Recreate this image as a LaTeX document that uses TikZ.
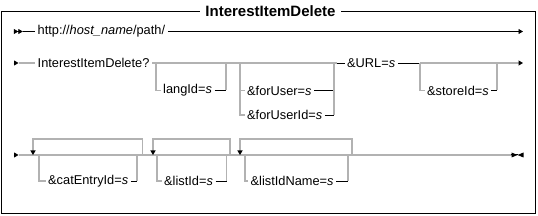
\documentclass[tikz,border=0pt]{standalone}
\usepackage{fontspec}
\setmainfont{Liberation Sans}
\usetikzlibrary{arrows.meta,positioning,calc}
\definecolor{rail}{RGB}{178,178,178}

\begin{document}
\begin{tikzpicture}[x=1pt, y=-1pt, font=\fontsize{12.8}{15}\selectfont,
  tok/.style={anchor=west, inner xsep=2.5pt, inner ysep=0pt},
  gr/.style={draw=rail, line width=1.4pt},
  bk/.style={draw=black, line width=0.8pt},
  tip/.style={-{Triangle[color=black, length=4.5pt, width=5pt]}},
  tip2/.style={-{Triangle[length=4.5pt, width=5pt] Triangle[length=4.5pt, width=5pt]}}]
\useasboundingbox (0,0) rectangle (538,216);
% frame and title
\draw[line width=0.9pt] (1.5,11.5) rectangle (535.5,213.5);
\node[fill=white, font=\fontsize{15}{17}\selectfont\bfseries,
  inner xsep=5pt, inner ysep=1pt] (title) at (270.5,11.5) {InterestItemDelete};
% first row
\coordinate (s1) at (13.5,31.5);
\coordinate (s1a) at (22.8,31.5);
\coordinate (e1) at (523,31.5);
\node[tok] (host) at (35,31.5) {http://\textit{host\_name}/path/};
\draw[bk, tip2] (s1) -- (s1a);
\draw[bk] (s1a) -- (host.west);
\draw[bk, tip] (host.east) -- (e1);
% second row
\coordinate (s2) at (13.5,63);
\coordinate (s2a) at (18.5,63);
\node[tok] (iid) at (35,63) {InterestItemDelete?};
\node[tok] (lang) at (160.5,90.5) {langId=\textit{s}};
\node[tok] (fuser) at (244.5,90.5) {\&forUser=\textit{s}};
\node[tok] (fuid) at (244.5,115) {\&forUserId=\textit{s}};
\node[tok] (url) at (344.5,63) {\&URL=\textit{s}};
\node[tok] (store) at (424.5,90.5) {\&storeId=\textit{s}};
\coordinate (e2) at (523,63);
\draw[bk, tip] (s2) -- (s2a);
\draw[gr] (s2a) -- (iid.west);
\draw[gr] (iid.east) -- (337,63);
\draw[bk] (337,63) -- (url.west);
\draw[bk] (url.east) -- (420,63);
\draw[gr, tip] (420,63) -- (e2);
% langId
\draw[gr] (156,63) -- (156,90.5) -- (lang.west);
\draw[bk] (lang.east) -- (226,90.5);
\draw[gr] (226,90.5) -- (226,63);
% forUser / forUserId
\draw[gr] (240,63) -- (240,115) -- (fuid.west);
\draw[gr] (240,90.5) -- (fuser.west);
\draw[bk] (fuser.east) -- (334,90.5);
\draw[bk] (fuid.east) -- (334,115);
\draw[gr] (334,115) -- (334,63);
% storeId
\draw[gr] (420,63) -- (420,90.5) -- (store.west);
\draw[bk] (store.east) -- (497,90.5);
\draw[gr] (497,90.5) -- (497,63);
% third row
\coordinate (s3) at (13.5,155);
\coordinate (s3a) at (18.5,155);
\coordinate (e3) at (511.5,155);
\coordinate (e3a) at (523.5,155);
\draw[bk, tip] (s3) -- (s3a);
\draw[gr] (s3a) -- (e3);
\draw[line width=0pt, -{Triangle[length=6pt, width=5pt] Triangle[length=6pt, width=5pt, reversed]}]
  (e3) -- (e3a);
% repeated options
\foreach \a/\l/\w/\r/\b/\n/\t in {
    33/39/45.5/137/142.5/cat/{\&catEntryId=\textit{s}},
    153/157/161.5/226.5/230/list/{\&listId=\textit{s}},
    240/245/248/348/352/lname/{\&listIdName=\textit{s}}} {
  \node[tok] (\n) at (\w,181) {\t};
  \draw[gr, tip] (\b,155) -- (\b,139) -- (\a,139) -- (\a,155);
  \draw[gr] (\l,155) -- (\l,181) -- (\n.west);
  \draw[bk] (\n.east) -- (\r,181);
  \draw[gr] (\r,181) -- (\r,155);
}
\end{tikzpicture}
\end{document}
